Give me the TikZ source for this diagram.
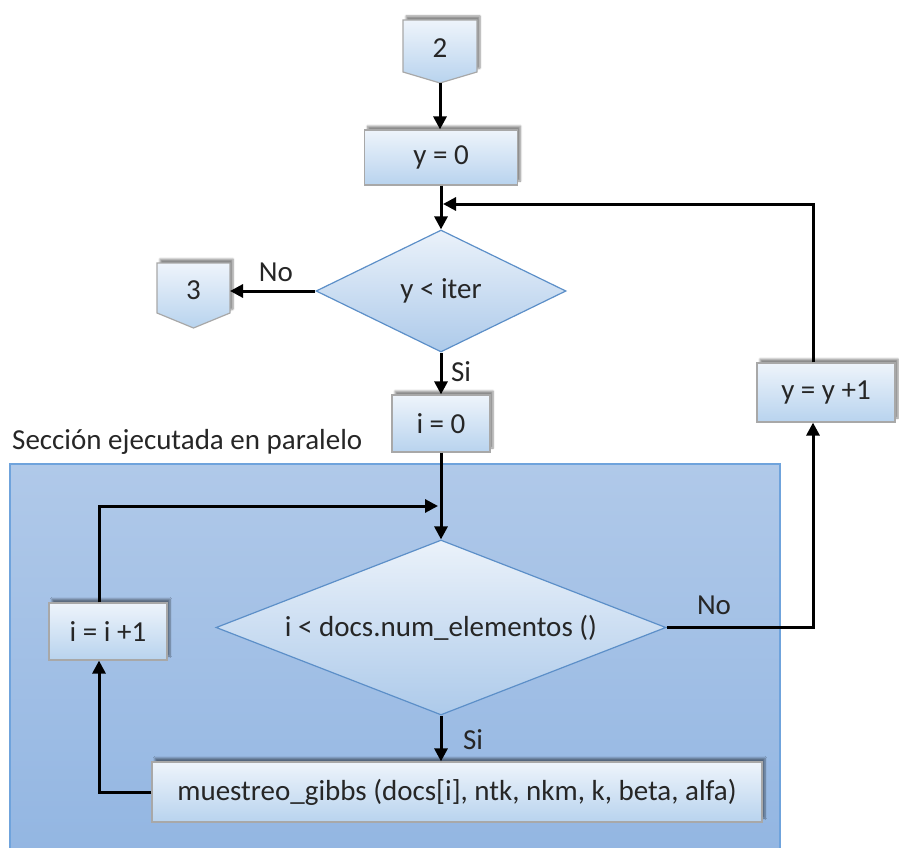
\documentclass[tikz,border=0pt]{standalone}
\usepackage{fontspec}
\setmainfont{Carlito}
\usetikzlibrary{shapes.geometric,arrows.meta,shadows.blur}

\definecolor{boxtop}{HTML}{EEF4FB}
\definecolor{boxbot}{HTML}{B8D3EE}
\definecolor{boxline}{HTML}{A8A8A8}
\definecolor{dtop}{HTML}{EBF2FA}
\definecolor{dbot}{HTML}{ADCAEA}
\definecolor{dline}{HTML}{5C8FC8}
\definecolor{zonetop}{HTML}{B0C9E9}
\definecolor{zonebot}{HTML}{93B6E2}
\definecolor{zoneline}{HTML}{6FA3DC}
\definecolor{ink}{HTML}{262626}

\begin{document}
\begin{tikzpicture}[x=1pt,y=-1pt,
  every node/.style={font=\fontsize{29}{34}\selectfont, text=ink},
  boxshadow/.style={blur shadow={shadow xshift=3pt, shadow yshift=4pt,
      shadow blur steps=6, shadow opacity=45}},
  procbox/.style={rectangle, draw=boxline, line width=1.2pt,
      top color=boxtop, bottom color=boxbot, inner sep=0pt, boxshadow},
  offpage/.style={draw=boxline, line width=1.2pt,
      top color=boxtop, bottom color=boxbot, boxshadow},
  decision/.style={diamond, draw=dline, line width=1.2pt,
      top color=dtop, bottom color=dbot, inner sep=0pt},
  zone/.style={draw=zoneline, line width=1.2pt,
      top color=zonetop, bottom color=zonebot},
  flow/.style={line width=3pt, draw=black},
  arr/.style={flow, -{Triangle[length=13pt,width=13pt]}},
  lbl/.style={inner sep=0pt}
]
\clip (0,0) rectangle (899,848);

% parallel section background
\path[zone] (10,464) rectangle (780,852);
\node[lbl, anchor=west] (ztitle) at (12,442) {Sección ejecutada en paralelo};

% off-page connectors
\path[offpage] (403,20) -- (477,20) -- (477,72) -- (440,83) -- (403,72) -- cycle;
\node[lbl] (c2) at (440,48) {2};
\coordinate (c2tip) at (440,83);

\path[offpage] (157,263) -- (230,263) -- (230,313) -- (193.5,328) -- (157,313) -- cycle;
\node[lbl] (c3) at (193.5,290) {3};
\coordinate (c3e) at (230,291);

% process boxes
\node[procbox, minimum width=153pt, minimum height=55pt] (y0) at (441,157.5) {y = 0};
\node[procbox, minimum width=98pt, minimum height=57pt] (i0) at (441,423.5) {i = 0};
\node[procbox, minimum width=138pt, minimum height=59pt] (yinc) at (826,392.5) {y = y +1};
\node[procbox, minimum width=118pt, minimum height=57pt] (iinc) at (108,631.5) {i = i +1};
\node[procbox, minimum width=610pt, minimum height=60pt] (gibbs) at (457,792)
  {muestreo\_gibbs (docs[i], ntk, nkm, k, beta, alfa)};

% decisions
\node[decision, aspect=2.05, minimum width=250pt, minimum height=122pt] (d1) at (441,291) {y < iter};
\node[decision, aspect=2.57, minimum width=450pt, minimum height=175pt] (d2) at (441,627.5)
  {\raisebox{4pt}{i < docs.num\_elementos ()}};

% loop corner points
\coordinate (loopL) at (99,506);
\coordinate (loopLend) at (438,506);
\coordinate (loopR) at (813,628);
\coordinate (loopRend) at (443,204);

% connectors
\draw[arr] (c2tip) -- (c2tip |- y0.north);
\draw[arr] (y0.south) -- (d1.north);
\draw[arr] (d1.west) -- (c3e);
\draw[arr] (d1.south) -- (i0.north);
\draw[arr] (i0.south) -- (d2.north);
\draw[arr] (d2.south) -- (d2.south |- gibbs.north);
\draw[arr] (gibbs.west) -| (iinc.south -| loopL);
\draw[arr] (iinc.north -| loopL) |- (loopLend);
\draw[arr] (d2.east) -| (yinc.south -| loopR);
\draw[arr] (yinc.north -| loopR) |- (loopRend);

% branch labels
\node[lbl] (no1) at (276,272) {No};
\node[lbl] (si1) at (461,372) {Si};
\node[lbl] (no2) at (714,605) {No};
\node[lbl] (si2) at (473,740) {Si};
\end{tikzpicture}
\end{document}
